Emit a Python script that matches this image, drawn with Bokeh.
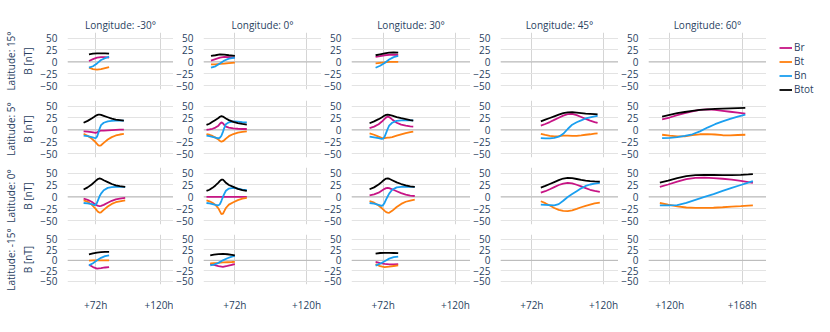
import numpy as np
from bokeh.plotting import figure
from bokeh.layouts import row, column
from bokeh.models import Range1d, FixedTicker, Span, Title, Legend, LegendItem, Grid
from bokeh.embed import file_html
from bokeh.resources import INLINE

latitudes = [15, 5, 0, -15]
longitudes = [-30, 0, 30, 45, 60]
y_ticks = [-50, -25, 0, 25, 50]
x_ticks_main = [72, 120]
x_ticks_last = [120, 168]
series_names = ["Br", "Bt", "Bn", "Btot"]
series_colors = ["#c71585", "#ff7f0e", "#1a9ff0", "#000000"]

# ---- Latitude 15 ----
t_15_m30 = [67, 70, 73, 76, 79, 82]
br_15_m30 = [2, 6, 9, 10, 10, 9]
bt_15_m30 = [-12, -15, -16, -15, -13, -11]
bn_15_m30 = [-12, -9, -3, 4, 8, 11]
btot_15_m30 = [16, 17.5, 18, 18, 18, 17.5]

t_15_0 = [56, 59, 62, 65, 68, 72]
br_15_0 = [3, 6, 9, 10.5, 10, 9]
bt_15_0 = [-5, -5, -4, -3.5, -2.5, -1.5]
bn_15_0 = [-12, -9, -3, 3, 7, 9]
btot_15_0 = [12.5, 14, 16, 15.5, 14, 12.5]

t_15_30 = [67, 70, 73, 76, 79, 82]
br_15_30 = [10.5, 12, 14, 15, 15, 14.5]
bt_15_30 = [-3, -2, -1, 0, 0, 0]
bn_15_30 = [-12, -8, -2, 5, 10, 12.5]
btot_15_30 = [14, 16, 18, 19.5, 20, 19.5]

# ---- Latitude 5 ----
t_5_m30 = [63, 66, 69, 71, 72, 73, 74, 75, 76, 78, 81, 84, 87, 90, 93]
br_5_m30 = [-3, -3.5, -4.5, -5.5, -6, -5, -3.5, -2, -1.5, -1.5, -1, -0.5, 0, 0.5, 0.7]
bt_5_m30 = [-8, -12, -18, -23, -26, -29, -32, -33, -32, -27, -20, -15, -11.5, -9.5, -8.4]
bn_5_m30 = [-12, -13, -15, -16.5, -17, -14, -6, 3, 10, 15, 18, 19, 19.5, 19.5, 19.6]
btot_5_m30 = [15, 19, 24, 27.5, 29.5, 31, 32, 32, 31.5, 29.5, 26.5, 23.5, 21.5, 20.5, 19.5]

t_5_0 = [53, 55, 57, 59, 61, 62, 63, 64, 65, 66, 68, 71, 74, 77, 80]
br_5_0 = [0, 1, 2.5, 5, 9, 13, 16, 14, 10, 7, 5, 3.5, 2.5, 2, 2]
bt_5_0 = [-8.5, -10, -12.5, -16, -20, -23, -24.5, -23.5, -21, -18, -13, -8.5, -5.5, -4, -3]
bn_5_0 = [-12, -13, -14.5, -16, -17.5, -16, -12, -4, 5, 12, 16, 18, 17.5, 16.5, 16]
btot_5_0 = [10.5, 13, 17, 21, 25, 27.5, 28.8, 28, 26, 24, 20.5, 17, 14.5, 12.5, 11.2]

t_5_30 = [63, 66, 69, 71, 72, 73, 74, 75, 76, 78, 81, 84, 87, 90, 92]
br_5_30 = [4, 7, 12, 17, 20, 23, 26, 28, 27, 22, 15, 11, 9, 7.5, 7]
bt_5_30 = [-7, -10, -14, -16.5, -17.5, -17, -16.5, -16, -16, -15, -12, -9, -6.5, -4.5, -3.5]
bn_5_30 = [-14, -15.5, -17, -18.5, -18, -14, -6, 2, 9, 15, 19, 19.8, 20, 20, 20]
btot_5_30 = [14, 18, 22.5, 26, 28, 30, 31.5, 32, 31.5, 30, 27, 24.5, 22.5, 20.5, 19.6]

t_5_45 = [78, 81, 84, 87, 90, 93, 96, 99, 102, 105, 108, 111, 114, 116]
br_5_45 = [9, 12.5, 16.5, 21, 25.5, 30, 33, 33.5, 31, 27, 23, 19.5, 16.5, 14.7]
bt_5_45 = [-8.4, -10.5, -12.5, -13.5, -13, -12, -12, -12.5, -12.5, -11.5, -10, -9, -7.5, -7]
bn_5_45 = [-17, -17.5, -17.5, -16.5, -14, -8, 2, 11, 16, 20, 24, 26.5, 28.5, 29.5]
btot_5_45 = [18, 21.5, 25, 28.5, 32, 35, 36.5, 37, 36, 35, 34, 33.5, 33, 32.5]

t_5_60 = [115, 120, 125, 130, 135, 140, 145, 150, 155, 160, 165, 170]
br_5_60 = [22, 26, 31, 35, 39, 42, 43, 42, 40, 38, 36, 34]
bt_5_60 = [-10, -12, -13.5, -13.5, -11, -9, -8.5, -9.5, -11, -11.5, -10.5, -10]
bn_5_60 = [-17, -16.5, -15, -12.5, -9, -3, 5, 12, 18, 23, 28, 32]
btot_5_60 = [28, 31.5, 35, 37.5, 40, 42, 43, 44, 44.5, 45, 45.5, 46]

# ---- Latitude 0 ----
t_0_m30 = [63, 66, 69, 71, 72, 73, 74, 75, 76, 78, 81, 84, 87, 90, 94]
br_0_m30 = [-3.5, -6, -10, -14, -16, -17.5, -18.5, -19, -18.5, -16.5, -12, -8, -5, -3.5, -2]
bt_0_m30 = [-7, -10, -16, -22, -25, -28.5, -31.5, -33, -32, -27, -20, -14.5, -11, -9, -7]
bn_0_m30 = [-12.6, -13.5, -15, -17, -16, -12, -5, 2, 7, 14, 19, 20.5, 21, 21, 21]
btot_0_m30 = [15.5, 20, 26, 31, 33.5, 36, 38, 38.6, 38, 35, 31, 27, 24, 22.5, 21]

t_0_0 = [53, 55, 57, 59, 61, 62, 63, 64, 65, 66, 68, 71, 74, 77, 80]
br_0_0 = [0, 0, 0, 0, 0, 0, 0, 0, 0, 0, 0, 0, 0, 0, 0]
bt_0_0 = [-7, -9, -12, -16.5, -24, -30, -36, -35, -29, -23, -16, -11, -6.5, -3.5, -2]
bn_0_0 = [-12.6, -13.5, -15, -16.5, -17.5, -15, -8, 0, 7, 13, 17.5, 19, 17.5, 15.5, 14]
btot_0_0 = [12.6, 15, 19, 24, 30, 33.5, 36, 36, 33, 29.5, 25, 21, 17, 14.5, 12.6]

t_0_30 = [63, 66, 69, 71, 72, 73, 74, 75, 76, 78, 81, 84, 87, 90, 93]
br_0_30 = [3.5, 5.5, 9, 13, 15, 17, 18.5, 19, 18.5, 16, 12, 8, 5, 3, 2]
bt_0_30 = [-8.4, -12, -18, -23, -26, -29, -31.5, -32.5, -33, -29, -21, -14.5, -10, -7.5, -5.6]
bn_0_30 = [-12.6, -14, -16.5, -18.5, -17, -12, -5, 1, 7, 15, 20, 21, 21, 21, 21]
btot_0_30 = [16, 20, 26, 31, 34, 36.5, 38.4, 38.6, 38, 35, 30.5, 27, 24, 22, 21]

t_0_45 = [78, 81, 84, 87, 90, 93, 96, 99, 102, 105, 108, 111, 114, 117.5]
br_0_45 = [9, 12, 16, 20.5, 25, 28, 29.5, 28.5, 25.5, 22, 18.5, 15, 12.5, 10.5]
bt_0_45 = [-9, -13, -18, -23, -27, -29, -29.5, -28, -25, -21.5, -18.5, -16, -13.5, -12]
bn_0_45 = [-16, -16.5, -17, -17.5, -15, -8, 0, 6, 12, 18, 23, 26, 28, 29.5]
btot_0_45 = [19.6, 23, 27, 31, 35, 38.5, 40, 39.5, 37.5, 35.5, 34, 33, 32.5, 32]

t_0_60 = [113.5, 119, 125, 131, 137, 143, 149, 155, 161, 167, 172, 175]
br_0_60 = [21, 26, 32, 37, 40, 40.5, 39.5, 38, 36, 33.5, 31, 29.5]
bt_0_60 = [-12.6, -16, -19.5, -22, -23, -23, -22.5, -21.5, -20, -19, -18, -17.5]
bn_0_60 = [-17.5, -17.5, -17, -12.5, -6, 0, 6, 12.5, 19, 25, 30, 33]
btot_0_60 = [30, 34, 39.5, 43.5, 45.5, 46, 45.8, 45.5, 45.5, 46, 47, 47.7]

# ---- Latitude -15 ----
t_m15_m30 = [67, 70, 73, 76, 79, 82]
br_m15_m30 = [-10.5, -16, -19.5, -18.5, -17, -16]
bt_m15_m30 = [-0.5, 0, 0, 0, 0, 0]
bn_m15_m30 = [-12, -7, 0, 6, 10, 12]
btot_m15_m30 = [14, 16.5, 18.5, 19.5, 20, 20]

t_m15_0 = [55.5, 58, 61, 64, 67, 70, 72]
br_m15_0 = [-8.4, -11, -14, -15.4, -13, -10.5, -9]
bt_m15_0 = [-7, -6.5, -6, -5, -4.5, -4, -3.5]
bn_m15_0 = [-12, -10, -6, 0, 5, 9, 10.5]
btot_m15_0 = [12, 13.5, 15, 15.4, 14.5, 13, 12]

t_m15_30 = [67, 70, 73, 76, 79, 82]
br_m15_30 = [-3.5, -6.5, -8.5, -9.5, -9.5, -9]
bt_m15_30 = [-9, -14, -16, -15, -13.5, -12]
bn_m15_30 = [-12.6, -8, -2, 4, 7.5, 9]
btot_m15_30 = [16, 17.5, 18, 18, 17.5, 17]

panels = {
    (15, -30): (t_15_m30, [br_15_m30, bt_15_m30, bn_15_m30, btot_15_m30]),
    (15, 0): (t_15_0, [br_15_0, bt_15_0, bn_15_0, btot_15_0]),
    (15, 30): (t_15_30, [br_15_30, bt_15_30, bn_15_30, btot_15_30]),
    (5, -30): (t_5_m30, [br_5_m30, bt_5_m30, bn_5_m30, btot_5_m30]),
    (5, 0): (t_5_0, [br_5_0, bt_5_0, bn_5_0, btot_5_0]),
    (5, 30): (t_5_30, [br_5_30, bt_5_30, bn_5_30, btot_5_30]),
    (5, 45): (t_5_45, [br_5_45, bt_5_45, bn_5_45, btot_5_45]),
    (5, 60): (t_5_60, [br_5_60, bt_5_60, bn_5_60, btot_5_60]),
    (0, -30): (t_0_m30, [br_0_m30, bt_0_m30, bn_0_m30, btot_0_m30]),
    (0, 0): (t_0_0, [br_0_0, bt_0_0, bn_0_0, btot_0_0]),
    (0, 30): (t_0_30, [br_0_30, bt_0_30, bn_0_30, btot_0_30]),
    (0, 45): (t_0_45, [br_0_45, bt_0_45, bn_0_45, btot_0_45]),
    (0, 60): (t_0_60, [br_0_60, bt_0_60, bn_0_60, btot_0_60]),
    (-15, -30): (t_m15_m30, [br_m15_m30, bt_m15_m30, bn_m15_m30, btot_m15_m30]),
    (-15, 0): (t_m15_0, [br_m15_0, bt_m15_0, bn_m15_0, btot_m15_0]),
    (-15, 30): (t_m15_30, [br_m15_30, bt_m15_30, bn_m15_30, btot_m15_30]),
}

FONT = "Open Sans"
TXT = "#2a3f5f"
FS = "10px"
XGRID = "#d5d5d5"
YGRID = "#e3e3e3"
ZERO = "#b5b5b5"
LW = 1.8
FW, FH = 119, 57
col_left = [54, 29, 30, 29, 29]
row_top = [32, 6, 5, 5]
row_bottom = [5, 5, 5, 23]


def fmt_tick(v):
    return ("\u2212" + str(abs(v))) if v < 0 else str(v)


rows = []
for r, lat in enumerate(latitudes):
    figs = []
    bottom_row = r == len(latitudes) - 1
    for c, lon in enumerate(longitudes):
        last = c == len(longitudes) - 1
        xt = x_ticks_last if last else x_ticks_main
        xr = Range1d(106, 184) if last else Range1d(51, 130)
        kw = dict(
            width=col_left[c] + FW, height=row_top[r] + FH + row_bottom[r],
            x_range=xr, y_range=Range1d(-57.5, 61.5),
            output_backend="svg", toolbar_location=None,
            min_border_left=col_left[c], min_border_right=0,
            min_border_top=row_top[r], min_border_bottom=row_bottom[r],
            background_fill_color="white", border_fill_color="white",
        )
        if not bottom_row:
            kw["x_axis_location"] = None
        if r == 0:
            kw["title"] = f"Longitude: {lon}\u00b0"
        p = figure(**kw)
        p.outline_line_color = None
        p.xgrid.visible = False
        p.ygrid.visible = False
        if r == 0:
            p.title.align = "center"
            p.title.text_font = FONT
            p.title.text_font_size = FS
            p.title.text_font_style = "normal"
            p.title.text_color = TXT
            p.title.standoff = 2

        p.add_layout(Grid(dimension=0, ticker=FixedTicker(ticks=xt), grid_line_color=XGRID, grid_line_width=1))
        p.add_layout(Grid(dimension=1, ticker=FixedTicker(ticks=y_ticks), grid_line_color=YGRID, grid_line_width=1))
        p.add_layout(Span(location=0, dimension="width", line_color=ZERO, line_width=1, level="underlay"))

        ya = p.yaxis[0]
        ya.ticker = FixedTicker(ticks=y_ticks)
        ya.major_label_overrides = {v: fmt_tick(v) for v in y_ticks}
        ya.axis_line_color = None
        ya.major_tick_line_color = None
        ya.minor_tick_line_color = None
        ya.major_label_standoff = 4
        ya.major_label_text_font = FONT
        ya.major_label_text_font_size = FS
        ya.major_label_text_color = TXT
        if c == 0:
            ya.axis_label = "B [nT]"
            ya.axis_label_standoff = 2
            ya.axis_label_text_font = FONT
            ya.axis_label_text_font_size = FS
            ya.axis_label_text_font_style = "normal"
            ya.axis_label_text_color = TXT
            lat_title = Title(text=f"Latitude: {lat}\u00b0", align="center", text_font=FONT,
                              text_font_size=FS, text_font_style="normal", text_color=TXT,
                              standoff=2)
            p.add_layout(lat_title, "left")

        if bottom_row:
            xa = p.xaxis[0]
            xa.ticker = FixedTicker(ticks=xt)
            xa.major_label_overrides = {v: f"+{v}h" for v in xt}
            xa.axis_line_color = None
            xa.major_tick_line_color = None
            xa.minor_tick_line_color = None
            xa.major_label_standoff = 7
            xa.major_label_text_font = FONT
            xa.major_label_text_font_size = FS
            xa.major_label_text_color = TXT

        key = (lat, lon)
        if key in panels:
            t, vals = panels[key]
            for v, col in zip(vals, series_colors):
                p.line(t, v, line_color=col, line_width=LW)
        figs.append(p)
    rows.append(row(*figs))

# legend panel to the right of the grid (its own column, so it can be taller than row 1)
lg = figure(width=48, height=130,
            x_range=Range1d(0, 1), y_range=Range1d(0, 1),
            output_backend="svg", toolbar_location=None,
            x_axis_location=None, y_axis_location=None,
            min_border_left=1, min_border_right=0, min_border_top=28, min_border_bottom=0,
            background_fill_color="white", border_fill_color="white")
lg.outline_line_color = None
lg.xgrid.visible = False
lg.ygrid.visible = False
# legend keys only: a single NaN point draws nothing in the frame
keys = [lg.line(x=[np.nan], y=[np.nan], line_color=col, line_width=LW) for col in series_colors]
leg = Legend(
    items=[LegendItem(label=n, renderers=[k]) for n, k in zip(series_names, keys)],
    location="top_left", orientation="vertical", margin=12, padding=0, spacing=0,
    glyph_width=13, glyph_height=11, label_height=11, label_standoff=2,
    label_text_font=FONT, label_text_font_size=FS, label_text_color=TXT,
    label_text_line_height=0.8,
    border_line_color=None, background_fill_alpha=0,
)
lg.add_layout(leg, "center")

layout = row(column(*rows), lg)
open("out.html", "w").write(file_html(layout, INLINE))
